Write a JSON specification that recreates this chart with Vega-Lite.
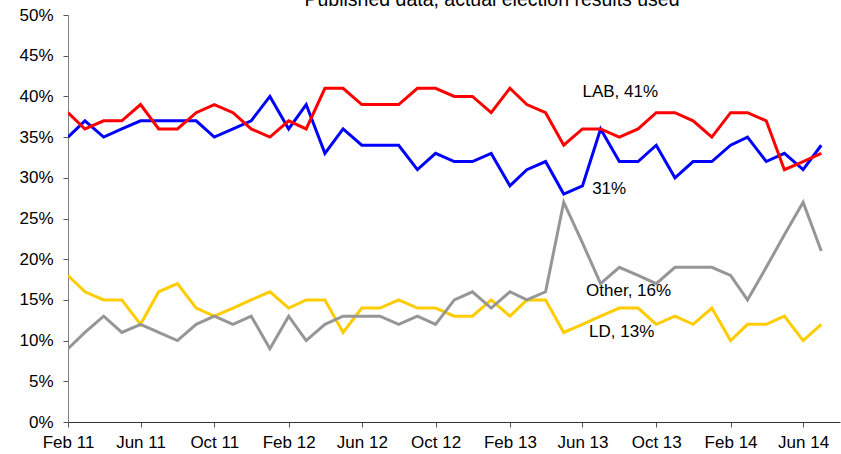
{
  "$schema": "https://vega.github.io/schema/vega-lite/v6.json",
  "autosize": "none",
  "width": 772,
  "height": 407,
  "padding": {"left": 68, "top": 15, "right": 1, "bottom": 32},
  "background": "white",
  "config": {"view": {"stroke": null}, "font": "Liberation Sans"},
  "title": {"text": "Published data, actual election results used", "fontSize": 19.5, "font": "Liberation Sans", "fontWeight": "normal", "color": "black", "anchor": "middle", "frame": "group", "dx": 38, "offset": -19, "baseline": "alphabetic"},
  "datasets": {
    "polls": [
      {"date": "2011/02/01", "party": "CON", "value": 35}, {"date": "2011/03/01", "party": "CON", "value": 37}, {"date": "2011/04/01", "party": "CON", "value": 35}, {"date": "2011/05/01", "party": "CON", "value": 36}, {"date": "2011/06/01", "party": "CON", "value": 37}, {"date": "2011/07/01", "party": "CON", "value": 37}, {"date": "2011/08/01", "party": "CON", "value": 37}, {"date": "2011/09/01", "party": "CON", "value": 37}, {"date": "2011/10/01", "party": "CON", "value": 35}, {"date": "2011/11/01", "party": "CON", "value": 36}, {"date": "2011/12/01", "party": "CON", "value": 37}, {"date": "2012/01/01", "party": "CON", "value": 40}, {"date": "2012/02/01", "party": "CON", "value": 36}, {"date": "2012/03/01", "party": "CON", "value": 39}, {"date": "2012/04/01", "party": "CON", "value": 33}, {"date": "2012/05/01", "party": "CON", "value": 36}, {"date": "2012/06/01", "party": "CON", "value": 34}, {"date": "2012/07/01", "party": "CON", "value": 34}, {"date": "2012/08/01", "party": "CON", "value": 34}, {"date": "2012/09/01", "party": "CON", "value": 31}, {"date": "2012/10/01", "party": "CON", "value": 33}, {"date": "2012/11/01", "party": "CON", "value": 32}, {"date": "2012/12/01", "party": "CON", "value": 32}, {"date": "2013/01/01", "party": "CON", "value": 33}, {"date": "2013/02/01", "party": "CON", "value": 29}, {"date": "2013/03/01", "party": "CON", "value": 31}, {"date": "2013/04/01", "party": "CON", "value": 32}, {"date": "2013/05/01", "party": "CON", "value": 28}, {"date": "2013/06/01", "party": "CON", "value": 29}, {"date": "2013/07/01", "party": "CON", "value": 36}, {"date": "2013/08/01", "party": "CON", "value": 32}, {"date": "2013/09/01", "party": "CON", "value": 32}, {"date": "2013/10/01", "party": "CON", "value": 34}, {"date": "2013/11/01", "party": "CON", "value": 30}, {"date": "2013/12/01", "party": "CON", "value": 32}, {"date": "2014/01/01", "party": "CON", "value": 32}, {"date": "2014/02/01", "party": "CON", "value": 34}, {"date": "2014/03/01", "party": "CON", "value": 35}, {"date": "2014/04/01", "party": "CON", "value": 32}, {"date": "2014/05/01", "party": "CON", "value": 33}, {"date": "2014/06/01", "party": "CON", "value": 31}, {"date": "2014/07/01", "party": "CON", "value": 34},
      {"date": "2011/02/01", "party": "LAB", "value": 38}, {"date": "2011/03/01", "party": "LAB", "value": 36}, {"date": "2011/04/01", "party": "LAB", "value": 37}, {"date": "2011/05/01", "party": "LAB", "value": 37}, {"date": "2011/06/01", "party": "LAB", "value": 39}, {"date": "2011/07/01", "party": "LAB", "value": 36}, {"date": "2011/08/01", "party": "LAB", "value": 36}, {"date": "2011/09/01", "party": "LAB", "value": 38}, {"date": "2011/10/01", "party": "LAB", "value": 39}, {"date": "2011/11/01", "party": "LAB", "value": 38}, {"date": "2011/12/01", "party": "LAB", "value": 36}, {"date": "2012/01/01", "party": "LAB", "value": 35}, {"date": "2012/02/01", "party": "LAB", "value": 37}, {"date": "2012/03/01", "party": "LAB", "value": 36}, {"date": "2012/04/01", "party": "LAB", "value": 41}, {"date": "2012/05/01", "party": "LAB", "value": 41}, {"date": "2012/06/01", "party": "LAB", "value": 39}, {"date": "2012/07/01", "party": "LAB", "value": 39}, {"date": "2012/08/01", "party": "LAB", "value": 39}, {"date": "2012/09/01", "party": "LAB", "value": 41}, {"date": "2012/10/01", "party": "LAB", "value": 41}, {"date": "2012/11/01", "party": "LAB", "value": 40}, {"date": "2012/12/01", "party": "LAB", "value": 40}, {"date": "2013/01/01", "party": "LAB", "value": 38}, {"date": "2013/02/01", "party": "LAB", "value": 41}, {"date": "2013/03/01", "party": "LAB", "value": 39}, {"date": "2013/04/01", "party": "LAB", "value": 38}, {"date": "2013/05/01", "party": "LAB", "value": 34}, {"date": "2013/06/01", "party": "LAB", "value": 36}, {"date": "2013/07/01", "party": "LAB", "value": 36}, {"date": "2013/08/01", "party": "LAB", "value": 35}, {"date": "2013/09/01", "party": "LAB", "value": 36}, {"date": "2013/10/01", "party": "LAB", "value": 38}, {"date": "2013/11/01", "party": "LAB", "value": 38}, {"date": "2013/12/01", "party": "LAB", "value": 37}, {"date": "2014/01/01", "party": "LAB", "value": 35}, {"date": "2014/02/01", "party": "LAB", "value": 38}, {"date": "2014/03/01", "party": "LAB", "value": 38}, {"date": "2014/04/01", "party": "LAB", "value": 37}, {"date": "2014/05/01", "party": "LAB", "value": 31}, {"date": "2014/06/01", "party": "LAB", "value": 32}, {"date": "2014/07/01", "party": "LAB", "value": 33},
      {"date": "2011/02/01", "party": "LD", "value": 18}, {"date": "2011/03/01", "party": "LD", "value": 16}, {"date": "2011/04/01", "party": "LD", "value": 15}, {"date": "2011/05/01", "party": "LD", "value": 15}, {"date": "2011/06/01", "party": "LD", "value": 12}, {"date": "2011/07/01", "party": "LD", "value": 16}, {"date": "2011/08/01", "party": "LD", "value": 17}, {"date": "2011/09/01", "party": "LD", "value": 14}, {"date": "2011/10/01", "party": "LD", "value": 13}, {"date": "2011/11/01", "party": "LD", "value": 14}, {"date": "2011/12/01", "party": "LD", "value": 15}, {"date": "2012/01/01", "party": "LD", "value": 16}, {"date": "2012/02/01", "party": "LD", "value": 14}, {"date": "2012/03/01", "party": "LD", "value": 15}, {"date": "2012/04/01", "party": "LD", "value": 15}, {"date": "2012/05/01", "party": "LD", "value": 11}, {"date": "2012/06/01", "party": "LD", "value": 14}, {"date": "2012/07/01", "party": "LD", "value": 14}, {"date": "2012/08/01", "party": "LD", "value": 15}, {"date": "2012/09/01", "party": "LD", "value": 14}, {"date": "2012/10/01", "party": "LD", "value": 14}, {"date": "2012/11/01", "party": "LD", "value": 13}, {"date": "2012/12/01", "party": "LD", "value": 13}, {"date": "2013/01/01", "party": "LD", "value": 15}, {"date": "2013/02/01", "party": "LD", "value": 13}, {"date": "2013/03/01", "party": "LD", "value": 15}, {"date": "2013/04/01", "party": "LD", "value": 15}, {"date": "2013/05/01", "party": "LD", "value": 11}, {"date": "2013/06/01", "party": "LD", "value": 12}, {"date": "2013/07/01", "party": "LD", "value": 13}, {"date": "2013/08/01", "party": "LD", "value": 14}, {"date": "2013/09/01", "party": "LD", "value": 14}, {"date": "2013/10/01", "party": "LD", "value": 12}, {"date": "2013/11/01", "party": "LD", "value": 13}, {"date": "2013/12/01", "party": "LD", "value": 12}, {"date": "2014/01/01", "party": "LD", "value": 14}, {"date": "2014/02/01", "party": "LD", "value": 10}, {"date": "2014/03/01", "party": "LD", "value": 12}, {"date": "2014/04/01", "party": "LD", "value": 12}, {"date": "2014/05/01", "party": "LD", "value": 13}, {"date": "2014/06/01", "party": "LD", "value": 10}, {"date": "2014/07/01", "party": "LD", "value": 12},
      {"date": "2011/02/01", "party": "Other", "value": 9}, {"date": "2011/03/01", "party": "Other", "value": 11}, {"date": "2011/04/01", "party": "Other", "value": 13}, {"date": "2011/05/01", "party": "Other", "value": 11}, {"date": "2011/06/01", "party": "Other", "value": 12}, {"date": "2011/07/01", "party": "Other", "value": 11}, {"date": "2011/08/01", "party": "Other", "value": 10}, {"date": "2011/09/01", "party": "Other", "value": 12}, {"date": "2011/10/01", "party": "Other", "value": 13}, {"date": "2011/11/01", "party": "Other", "value": 12}, {"date": "2011/12/01", "party": "Other", "value": 13}, {"date": "2012/01/01", "party": "Other", "value": 9}, {"date": "2012/02/01", "party": "Other", "value": 13}, {"date": "2012/03/01", "party": "Other", "value": 10}, {"date": "2012/04/01", "party": "Other", "value": 12}, {"date": "2012/05/01", "party": "Other", "value": 13}, {"date": "2012/06/01", "party": "Other", "value": 13}, {"date": "2012/07/01", "party": "Other", "value": 13}, {"date": "2012/08/01", "party": "Other", "value": 12}, {"date": "2012/09/01", "party": "Other", "value": 13}, {"date": "2012/10/01", "party": "Other", "value": 12}, {"date": "2012/11/01", "party": "Other", "value": 15}, {"date": "2012/12/01", "party": "Other", "value": 16}, {"date": "2013/01/01", "party": "Other", "value": 14}, {"date": "2013/02/01", "party": "Other", "value": 16}, {"date": "2013/03/01", "party": "Other", "value": 15}, {"date": "2013/04/01", "party": "Other", "value": 16}, {"date": "2013/05/01", "party": "Other", "value": 27}, {"date": "2013/06/01", "party": "Other", "value": 22}, {"date": "2013/07/01", "party": "Other", "value": 17}, {"date": "2013/08/01", "party": "Other", "value": 19}, {"date": "2013/09/01", "party": "Other", "value": 18}, {"date": "2013/10/01", "party": "Other", "value": 17}, {"date": "2013/11/01", "party": "Other", "value": 19}, {"date": "2013/12/01", "party": "Other", "value": 19}, {"date": "2014/01/01", "party": "Other", "value": 19}, {"date": "2014/02/01", "party": "Other", "value": 18}, {"date": "2014/03/01", "party": "Other", "value": 15}, {"date": "2014/04/01", "party": "Other", "value": 19}, {"date": "2014/05/01", "party": "Other", "value": 23}, {"date": "2014/06/01", "party": "Other", "value": 27}, {"date": "2014/07/01", "party": "Other", "value": 21}
    ],
    "labels": [
      {"date": "2013/06/01", "value": 40.5, "label": "LAB, 41%"},
      {"date": "2013/06/17", "value": 28.6, "label": "31%"},
      {"date": "2013/06/07", "value": 16.1, "label": "Other, 16%"},
      {"date": "2013/06/12", "value": 11.1, "label": "LD, 13%"}
    ]
  },
  "layer": [
    {
      "data": {"name": "polls"},
      "mark": {"type": "line", "strokeWidth": 3, "clip": true},
      "encoding": {
        "x": {
          "field": "date", "type": "temporal",
          "scale": {"domain": [{"year": 2011, "month": 2, "date": 1}, {"year": 2014, "month": 8, "date": 1}]},
          "axis": {
            "title": null, "format": "%b %y", "grid": false,
            "values": [{"year": 2011, "month": 2, "date": 1}, {"year": 2011, "month": 6, "date": 1}, {"year": 2011, "month": 10, "date": 1}, {"year": 2012, "month": 2, "date": 1}, {"year": 2012, "month": 6, "date": 1}, {"year": 2012, "month": 10, "date": 1}, {"year": 2013, "month": 2, "date": 1}, {"year": 2013, "month": 6, "date": 1}, {"year": 2013, "month": 10, "date": 1}, {"year": 2014, "month": 2, "date": 1}, {"year": 2014, "month": 6, "date": 1}],
            "labelFontSize": 17, "labelFont": "Liberation Sans", "labelColor": "black", "labelPadding": 7,
            "labelOverlap": false, "labelFlush": false,
            "tickSize": 5, "tickColor": "#555555", "domainColor": "#333333", "domainWidth": 1
          }
        },
        "y": {
          "field": "value", "type": "quantitative",
          "scale": {"domain": [0, 50], "nice": false},
          "axis": {
            "title": null, "values": [0, 5, 10, 15, 20, 25, 30, 35, 40, 45, 50], "labelExpr": "datum.value + '%'", "grid": false,
            "labelFontSize": 17, "labelFont": "Liberation Sans", "labelColor": "black", "labelPadding": 10,
            "tickSize": 5, "tickColor": "#555555", "domainColor": "#808080", "domainWidth": 1
          }
        },
        "color": {
          "field": "party", "type": "nominal",
          "scale": {"domain": ["CON", "LAB", "LD", "Other"], "range": ["#0000FF", "#FF0000", "#FFCC00", "#969696"]},
          "legend": null
        },
        "order": {"field": "date", "type": "temporal"}
      }
    },
    {
      "data": {"name": "labels"},
      "mark": {"type": "text", "align": "left", "baseline": "middle", "fontSize": 17, "font": "Liberation Sans", "color": "black"},
      "encoding": {
        "x": {"field": "date", "type": "temporal"},
        "y": {"field": "value", "type": "quantitative"},
        "text": {"field": "label"}
      }
    }
  ]
}
